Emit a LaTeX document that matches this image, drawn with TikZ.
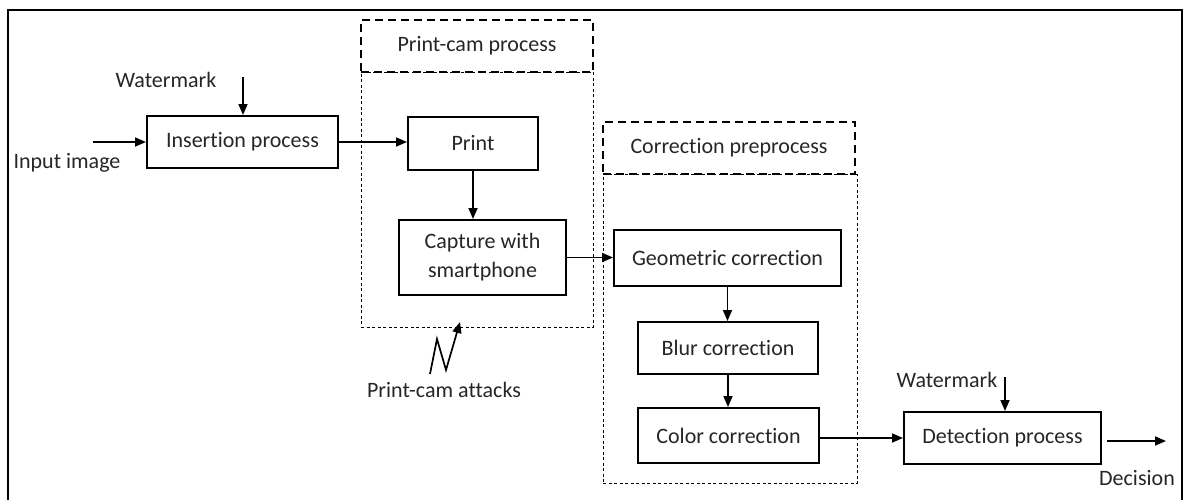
\documentclass[tikz,border=0pt]{standalone}
\usepackage{fontspec}
\setmainfont{Carlito}[Ligatures=NoCommon]
\usetikzlibrary{arrows.meta}
\begin{document}
\begin{tikzpicture}[x=1pt,y=-1pt,
  every node/.style={font=\fontsize{22}{29}\selectfont, text=black!85},
  box/.style={draw, line width=2pt, inner sep=0pt, align=center},
  header/.style={draw, line width=1.8pt, dash pattern=on 8pt off 5pt, inner sep=0pt},
  region/.style={draw, line width=0.9pt, dash pattern=on 3pt off 2.5pt, inner sep=0pt},
  arr/.style={line width=1.7pt, -{Triangle[length=11pt,width=9pt]}},
  lbl/.style={inner sep=0pt}]
\useasboundingbox (0,0) rectangle (1184,499);
% outer frame
\draw[line width=2pt] (8,502) -- (8,10) -- (1182,10) -- (1182,502);
% regions
\node[region, minimum width=232, minimum height=255] (pcr) at (477,199.5) {};
\node[header, minimum width=232, minimum height=52] (pch) at (477,46) {Print-cam process};
\node[region, minimum width=254, minimum height=309] (ccr) at (730,328.5) {};
\node[header, minimum width=252, minimum height=52] (cch) at (729,148) {Correction preprocess};
% boxes
\node[box, minimum width=191, minimum height=52, fill=white] (ins) at (242.5,142) {Insertion process};
\node[box, minimum width=130, minimum height=53, fill=white] (print) at (473,143.5) {Print};
\node[box, minimum width=167, minimum height=75, fill=white] (cap) at (482.5,257.5) {Capture with\\smartphone};
\node[box, minimum width=227, minimum height=56, fill=white] (geo) at (727.5,258) {Geometric correction};
\node[box, minimum width=180, minimum height=52, fill=white] (blur) at (728,348) {Blur correction};
\node[box, minimum width=181, minimum height=55, fill=white] (col) at (728.5,435.5) {Color correction};
\node[box, minimum width=197, minimum height=52, fill=white] (det) at (1002.5,438) {Detection process};
% labels
\node[lbl] (wm1) at (166,80) {Watermark};
\node[lbl] (inimg) at (67,163) {Input image};
\node[lbl] (pca) at (444,390) {Print-cam attacks};
\node[lbl] (wm2) at (947,380) {Watermark};
\node[lbl] (dec) at (1137,478) {Decision};
% coordinates
\coordinate (wm1s) at (243,77);
\coordinate (ins0) at (93,142);
\coordinate (wm2s) at (1005,377);
\coordinate (out) at (1166,441);
\coordinate (z1) at (430,374);
\coordinate (z2) at (437,339);
\coordinate (z3) at (446,370);
\coordinate (z4) at (460,322);
% connectors
\draw[arr] (wm1s) -- (wm1s |- ins.north);
\draw[arr] (ins0) -- (ins0 -| ins.west);
\draw[arr] (ins.east) -- (ins.east -| print.west);
\draw[arr] (print.south) -- (print.south |- cap.north);
\draw[arr] (cap.east) -- (cap.east -| geo.west);
\draw[arr] (geo.south) -- (geo.south |- blur.north);
\draw[arr] (blur.south) -- (blur.south |- col.north);
\draw[arr] (col.east |- det.west) -- (det.west);
\draw[arr] (wm2s) -- (wm2s |- det.north);
\draw[arr] (det.east |- out) ++(5,0) -- (out);
\draw[line width=1.7pt, -{Triangle[length=11pt,width=9pt]}, line join=miter] (z1) -- (z2) -- (z3) -- (z4);
\end{tikzpicture}
\end{document}
